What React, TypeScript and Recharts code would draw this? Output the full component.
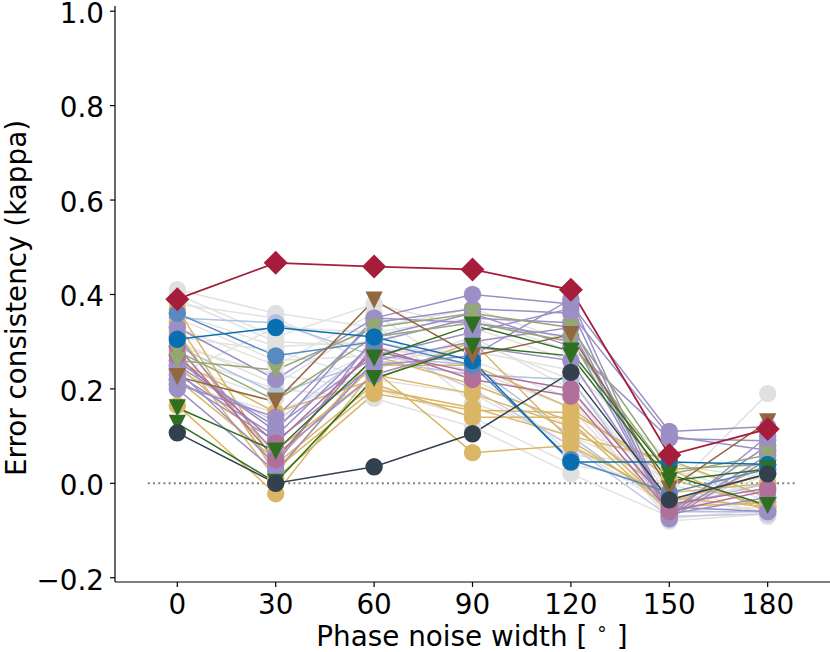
import React from 'react';
import {
  LineChart,
  Line,
  XAxis,
  YAxis,
  ReferenceLine,
  Label,
} from 'recharts';

// phase noise widths (degrees)
const noiseWidths = [0, 30, 60, 90, 120, 150, 180];
const yTicks = [-0.2, 0, 0.2, 0.4, 0.6, 0.8, 1.0];

// gray background models
const gray01 = [0.41, 0.36, 0.33, 0.37, 0.3, -0.02, 0.19];
const gray02 = [0.4, 0.31, 0.38, 0.33, 0.26, -0.06, -0.05];
const gray03 = [0.38, 0.35, 0.25, 0.3, 0.22, -0.04, 0.0];
const gray04 = [0.36, 0.29, 0.3, 0.26, 0.18, -0.08, -0.065];
const gray05 = [0.33, 0.25, 0.36, 0.22, 0.12, 0.03, -0.03];
const gray06 = [0.31, 0.28, 0.22, 0.19, 0.08, -0.05, 0.05];
const gray07 = [0.29, 0.23, 0.2, 0.14, 0.04, 0.0, -0.07];
const gray08 = [0.27, 0.2, 0.18, 0.12, 0.02, -0.07, 0.02];
const gray09 = [0.25, 0.18, 0.28, 0.28, 0.24, 0.05, -0.04];
const gray10 = [0.23, 0.33, 0.32, 0.35, 0.28, -0.03, -0.06];
const gray11 = [0.35, 0.26, 0.27, 0.24, 0.16, -0.065, 0.03];
const gray12 = [0.3, 0.21, 0.34, 0.17, 0.1, 0.01, -0.02];
const gray13 = [0.21, 0.15, 0.24, 0.31, 0.2, -0.075, -0.055];
const gray14 = [0.39, 0.3, 0.29, 0.25, 0.06, 0.04, 0.01];

// light blues
const lightSteel1 = [0.35, 0.34, 0.27, 0.25, 0.1, -0.05, 0.0];
const lightSteel2 = [0.29, 0.19, 0.26, 0.23, 0.22, -0.06, -0.06];
const lavender1 = [0.24, 0.13, 0.29, 0.2, 0.08, -0.07, -0.065];

// gold
const gold1 = [0.165, -0.022, 0.24, 0.065, 0.08, -0.03, -0.05];
const gold2 = [0.37, 0.04, 0.21, 0.14, 0.14, -0.05, -0.04];
const gold3 = [0.28, 0.01, 0.19, 0.155, 0.15, 0.03, -0.06];
const gold4 = [0.25, 0.07, 0.23, 0.19, 0.12, -0.02, 0.0];
const gold5 = [0.32, 0.03, 0.2, 0.16, 0.1, 0.05, -0.03];
const gold6 = [0.26, 0.15, 0.22, 0.3, 0.09, -0.04, 0.02];
const gold7 = [0.22, 0.05, 0.25, 0.25, 0.16, 0.01, -0.05];
const gold8 = [0.34, 0.02, 0.27, 0.21, 0.13, -0.06, 0.04];

// purple
const purple1 = [0.33, 0.22, 0.35, 0.4, 0.38, 0.11, 0.12];
const purple2 = [0.21, 0.14, 0.34, 0.37, 0.36, 0.1, 0.07];
const purple3 = [0.23, 0.1, 0.3, 0.35, 0.34, -0.06, 0.08];
const purple4 = [0.2, 0.025, 0.26, 0.3, 0.33, -0.07, 0.06];
const purple5 = [0.25, 0.12, 0.27, 0.32, 0.37, -0.075, 0.05];
const purple6 = [0.22, 0.09, 0.25, 0.27, 0.39, -0.065, -0.03];
const purple7 = [0.24, 0.04, 0.31, 0.36, 0.29, 0.095, 0.09];
const purple8 = [0.31, 0.06, 0.23, 0.29, 0.26, -0.05, -0.06];
const purple9 = [0.26, 0.11, 0.35, 0.34, 0.31, -0.07, 0.1];

// pink
const pink1 = [0.29, 0.05, 0.29, 0.22, 0.185, -0.06, -0.015];
const pink2 = [0.27, 0.085, 0.28, 0.235, 0.2, -0.045, -0.01];

// olive triangles
const olive1 = [0.26, 0.24, 0.33, 0.36, 0.33, 0.03, 0.04];
const olive2 = [0.28, 0.175, 0.31, 0.34, 0.3, 0.02, 0.06];

// blues
const steelBlue = [0.36, 0.27, 0.3, 0.25, 0.05, -0.02, 0.03];
const darkBlue = [0.305, 0.33, 0.31, 0.26, 0.045, 0.045, 0.04];

// triangles
const brown = [0.226, 0.173, 0.388, 0.27, 0.315, -0.012, 0.13];
const green1 = [0.16, 0.068, 0.265, 0.335, 0.28, 0.019, -0.047];
const green2 = [0.127, 0.002, 0.222, 0.29, 0.27, 0.005, 0.03];

// highlights
const slate = [0.107, 0.0, 0.035, 0.105, 0.235, -0.035, 0.02];
const crimson = [0.39, 0.467, 0.459, 0.453, 0.41, 0.06, 0.115];

type Shape = 'circle' | 'tri' | 'diamond';
interface SeriesDef {
  key: string;
  values: number[];
  color: string;
  fill: string;
  shape: Shape;
}

const GRAY_LINE = '#e2e2e2';
const GRAY_DOT = '#e0e0e0';
const GOLD = '#dbb667';
const PURPLE = '#9b8fc6';
const PINK = '#b0709a';
const OLIVE = '#93a872';

const series: SeriesDef[] = [
  ...[gray01, gray02, gray03, gray04, gray05, gray06, gray07, gray08, gray09, gray10, gray11, gray12, gray13, gray14].map(
    (v, i) => ({ key: `gray${i}`, values: v, color: GRAY_LINE, fill: GRAY_DOT, shape: 'circle' as Shape })
  ),
  { key: 'ls1', values: lightSteel1, color: '#b1c2e0', fill: '#b1c2e0', shape: 'circle' },
  { key: 'ls2', values: lightSteel2, color: '#b1c2e0', fill: '#b1c2e0', shape: 'circle' },
  { key: 'lv1', values: lavender1, color: '#c6cae8', fill: '#c6cae8', shape: 'circle' },
  ...[gold1, gold2, gold3, gold4, gold5, gold6, gold7, gold8].map((v, i) => ({
    key: `gold${i}`, values: v, color: GOLD, fill: GOLD, shape: 'circle' as Shape,
  })),
  ...[purple1, purple2, purple3, purple4, purple5, purple6, purple7, purple8, purple9].map((v, i) => ({
    key: `purple${i}`, values: v, color: PURPLE, fill: PURPLE, shape: 'circle' as Shape,
  })),
  { key: 'pink1', values: pink1, color: PINK, fill: PINK, shape: 'circle' },
  { key: 'pink2', values: pink2, color: PINK, fill: PINK, shape: 'circle' },
  { key: 'olive1', values: olive1, color: OLIVE, fill: OLIVE, shape: 'tri' },
  { key: 'olive2', values: olive2, color: OLIVE, fill: OLIVE, shape: 'tri' },
  { key: 'steel', values: steelBlue, color: '#5a88c1', fill: '#5a88c1', shape: 'circle' },
  { key: 'blue', values: darkBlue, color: '#0a6fb0', fill: '#0a6fb0', shape: 'circle' },
  { key: 'brown', values: brown, color: '#93673f', fill: '#93673f', shape: 'tri' },
  { key: 'green1', values: green1, color: '#2f7020', fill: '#2f7020', shape: 'tri' },
  { key: 'green2', values: green2, color: '#2f7020', fill: '#2f7020', shape: 'tri' },
  { key: 'slate', values: slate, color: '#33414e', fill: '#33414e', shape: 'circle' },
  { key: 'crimson', values: crimson, color: '#a51d3a', fill: '#a51d3a', shape: 'diamond' },
];

const chartData = noiseWidths.map((x, i) => {
  const row: Record<string, number> = { x };
  series.forEach((s) => {
    row[s.key] = s.values[i];
  });
  return row;
});

const FONT = '"DejaVu Sans", sans-serif';
const FS = 27.8;

const renderMarker = (s: SeriesDef) => (props: any) => {
  const { cx, cy, index } = props;
  const k = `${s.key}-${index}`;
  if (cx == null || cy == null) return <g key={k} />;
  if (s.shape === 'tri') {
    const h = 8.6;
    return (
      <polygon
        key={k}
        points={`${cx - h},${cy - h} ${cx + h},${cy - h} ${cx},${cy + h}`}
        fill={s.fill}
      />
    );
  }
  if (s.shape === 'diamond') {
    const d = 12;
    return (
      <polygon
        key={k}
        points={`${cx},${cy - d} ${cx + d},${cy} ${cx},${cy + d} ${cx - d},${cy}`}
        fill={s.fill}
      />
    );
  }
  return <circle key={k} cx={cx} cy={cy} r={8.7} fill={s.fill} />;
};

const yLabel = () => (
  <text
    x={26}
    y={298}
    transform="rotate(-90 26 298)"
    textAnchor="middle"
    fontFamily={FONT}
    fontSize={FS}
    fill="#000"
  >
    Error consistency (kappa)
  </text>
);

const xLabel = () => (
  <text x={472} y={646} textAnchor="middle" fontFamily={FONT} fontSize={FS} fill="#000">
    Phase noise width [ <tspan dy={-11} fontSize={19}>∘</tspan>
    <tspan dy={11}> ]</tspan>
  </text>
);

export default function App() {
  return (
    <div style={{ position: 'absolute', left: 0, top: 0, width: 830, height: 652, background: '#fff' }}>
      <LineChart
        width={830}
        height={652}
        data={chartData}
        margin={{ top: 6, right: 0, bottom: 0, left: 0 }}
      >
        <XAxis
          dataKey="x"
          type="number"
          domain={[-19, 199]}
          ticks={noiseWidths}
          allowDataOverflow
          height={70}
          tickSize={5}
          tickMargin={7}
          axisLine={{ stroke: '#000', strokeWidth: 1.2 }}
          tickLine={{ stroke: '#000', strokeWidth: 1.2 }}
          tick={{ fontFamily: FONT, fontSize: FS, fill: '#000' }}
          interval={0}
        >
          <Label content={xLabel} />
        </XAxis>
        <YAxis
          type="number"
          domain={[-0.209, 1.011]}
          ticks={yTicks}
          allowDataOverflow
          width={115}
          tickSize={5}
          tickMargin={6}
          interval={0}
          axisLine={{ stroke: '#000', strokeWidth: 1.2 }}
          tickLine={{ stroke: '#000', strokeWidth: 1.2 }}
          tick={{ fontFamily: FONT, fontSize: FS, fill: '#000', dy: 2 }}
          tickFormatter={(v: number) => (v < 0 ? `\u2212${Math.abs(v).toFixed(1)}` : v.toFixed(1))}
        >
          <Label content={yLabel} />
        </YAxis>
        <ReferenceLine
          segment={[
            { x: -9, y: 0 },
            { x: 189, y: 0 },
          ]}
          stroke="#808080"
          strokeWidth={2}
          strokeDasharray="2 3.2"
        />
        {series.map((s) => (
          <Line
            key={s.key}
            dataKey={s.key}
            type="linear"
            stroke={s.color}
            strokeWidth={s.key === 'crimson' ? 1.8 : 1.5}
            dot={renderMarker(s)}
            activeDot={false}
            isAnimationActive={false}
          />
        ))}
      </LineChart>
    </div>
  );
}
